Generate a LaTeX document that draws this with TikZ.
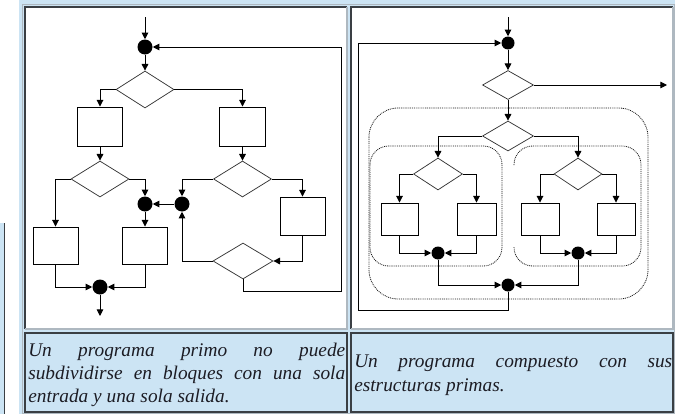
\documentclass[tikz,border=0pt]{standalone}
\usepackage{fontspec}
\setmainfont{Liberation Serif}
\usetikzlibrary{arrows.meta,shapes.geometric}
\definecolor{tblue}{HTML}{CCE4F4}
\definecolor{dline}{HTML}{3A3F44}
\definecolor{lline}{HTML}{AEB8C0}
\definecolor{txtc}{HTML}{1C1C24}
\begin{document}
\begin{tikzpicture}[x=0.75pt,y=-0.75pt,
  bx/.style 2 args={draw=black, line width=0.7pt, minimum width=#1*0.75pt, minimum height=#2*0.75pt, inner sep=0pt},
  dm/.style 2 args={diamond, draw=black!80, line width=0.55pt, minimum width=#1*0.75pt, minimum height=#2*0.75pt, inner sep=0pt},
  jdot/.style={circle, fill=black, inner sep=0pt, minimum size=#1*0.75pt},
  jdot/.default=14,
  ln/.style={draw=black, line width=0.7pt},
  arr/.style={ln, -{Triangle[length=5pt,width=5pt]}},
  dots/.style={draw=black!90, line width=0.6pt, dash pattern=on 0.7pt off 0.7pt},
  capt/.style={anchor=base west, inner sep=0pt, text=txtc, font=\fontsize{14.5}{17}\selectfont\itshape}
]
\useasboundingbox (0,0) rectangle (675,414);
% ---------- table background ----------
\fill[white] (0,0) rectangle (675,414);
\fill[tblue] (19,0) rectangle (675,414);
\fill[tblue] (0,223) rectangle (5,414);
\draw[dline, line width=0.6pt] (4.5,223) -- (4.5,414);
\draw[lline, line width=0.6pt] (22.5,4) rectangle (674.5,413.5);
% top-left cell
\fill[white] (25,7) rectangle (347,329);
\draw[dline, line width=0.8pt] (25,329) -- (25,7) -- (347,7);
\draw[lline, line width=0.8pt] (347,7) -- (347,329) -- (25,329);
% top-right cell
\fill[white] (351,7) rectangle (673,329);
\draw[dline, line width=0.8pt] (351,329) -- (351,7) -- (673,7);
\draw[lline, line width=0.8pt] (673,7) -- (673,329) -- (351,329);
% caption cells
\draw[dline, line width=0.8pt, fill=tblue] (25,333) rectangle (347,412);
\draw[dline, line width=0.8pt, fill=tblue] (351,333) rectangle (673,412);

% ---------- left flowchart ----------
\coordinate (L_in) at (145,17);
\node[jdot=15] (L_j1) at (145,47) {};
\node[dm={58}{37}] (L_d1) at (145,89.5) {};
\node[bx={45}{39}] (L_b1) at (100,126.5) {};
\node[bx={46}{39}] (L_b2) at (242.5,126.5) {};
\node[dm={58}{36}] (L_d2) at (100,179) {};
\node[dm={58}{36}] (L_d3) at (242.5,179) {};
\node[jdot=15] (L_j2) at (145,204) {};
\node[jdot=15] (L_j3) at (182,204) {};
\node[bx={45}{37}] (L_b3) at (55.5,245.5) {};
\node[bx={45}{37}] (L_b4) at (145,245.5) {};
\node[bx={45}{38}] (L_b5) at (302.5,216) {};
\node[dm={60}{36}] (L_d4) at (243,261) {};
\node[jdot=15] (L_j4) at (100,287) {};
\coordinate (L_out) at (100,316);
\coordinate (L_r1) at (341,291);
\coordinate (L_r2) at (341,47);

\draw[arr] (L_in) -- (L_j1);
\draw[arr] (L_j1) -- (L_d1);
\draw[arr] (L_d1.west) -| (L_b1);
\draw[arr] (L_d1.east) -| (L_b2);
\draw[arr] (L_b1) -- (L_d2);
\draw[arr] (L_b2) -- (L_d3);
\draw[arr] (L_d2.west) -| (L_b3);
\draw[arr] (L_d2.east) -| (L_j2);
\draw[arr] (L_j2) -- (L_b4);
\draw[arr] (L_d3.west) -| (L_j3);
\draw[arr] (L_j3) -- (L_j2);
\draw[arr] (L_d3.east) -| (L_b5);
\draw[arr] (L_b5.south) |- (L_d4.east);
\draw[arr] (L_d4.west) -| (L_j3);
\draw[arr] (L_d4.south) |- (L_r1) -- (L_r2) -- (L_j1);
\draw[arr] (L_b3.south) |- (L_j4);
\draw[arr] (L_b4.south) |- (L_j4);
\draw[arr] (L_j4) -- (L_out);

% ---------- right flowchart ----------
% dotted groupings
\draw[dots, rounded corners=22pt] (369,108) rectangle (648,299);
\draw[dots, rounded corners=14pt] (370,146) rectangle (502,266);
\draw[dots, rounded corners=14pt] (514,165) -- (514,146) -- (641,146) -- (641,266) -- (514,266) -- (514,247);

\coordinate (R_in) at (508,17);
\node[jdot=13] (R_j1) at (508,43) {};
\node[dm={51}{29}] (R_d1) at (508,85) {};
\coordinate (R_out) at (667,85);
\node[dm={51}{30}] (R_d2) at (508,136) {};
\node[dm={49}{32}] (R_d3) at (438,174) {};
\node[dm={48}{32}] (R_d4) at (578,174) {};
\node[bx={37}{32}] (R_b1) at (399.5,219) {};
\node[bx={39}{32}] (R_b2) at (476.5,219) {};
\node[bx={38}{32}] (R_b3) at (540,219) {};
\node[bx={38}{32}] (R_b4) at (616,219) {};
\node[jdot=13] (R_j2) at (438,253) {};
\node[jdot=13] (R_j3) at (578,253) {};
\node[jdot=13] (R_j5) at (508,285) {};
\coordinate (R_l1) at (358,310);
\coordinate (R_l2) at (358,43);

\draw[arr] (R_in) -- (R_j1);
\draw[arr] (R_j1) -- (R_d1);
\draw[arr] (R_d1.east) -- (R_out);
\draw[arr] (R_d1) -- (R_d2);
\draw[arr] (R_d2.west) -| (R_d3);
\draw[arr] (R_d2.east) -| (R_d4);
\draw[arr] (R_d3.west) -| (R_b1);
\draw[arr] (R_d3.east) -| (R_b2);
\draw[arr] (R_d4.west) -| (R_b3);
\draw[arr] (R_d4.east) -| (R_b4);
\draw[arr] (R_b1.south) |- (R_j2);
\draw[arr] (R_b2.south) |- (R_j2);
\draw[arr] (R_b3.south) |- (R_j3);
\draw[arr] (R_b4.south) |- (R_j3);
\draw[arr] (R_j2) |- (R_j5);
\draw[arr] (R_j3) |- (R_j5);
\draw[arr] (R_j5) |- (R_l1) -- (R_l2) -- (R_j1);

% ---------- captions ----------
\node[capt] (capL1) at (28,356.5) {\makebox[237.75pt][s]{Un programa primo no puede}};
\node[capt] (capL2) at (28,379.5) {\makebox[237.75pt][s]{subdividirse en bloques con una sola}};
\node[capt] (capL3) at (28,402.5) {entrada y una sola salida.};
\node[capt] (capR1) at (354,367) {\makebox[238.5pt][s]{Un programa compuesto con sus}};
\node[capt] (capR2) at (354,391) {estructuras primas.};
\end{tikzpicture}
\end{document}
